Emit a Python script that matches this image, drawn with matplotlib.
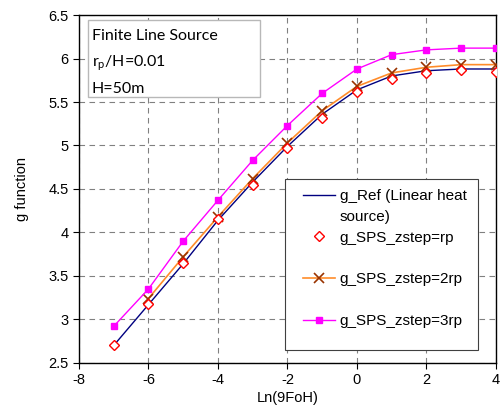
import matplotlib.pyplot as plt
from matplotlib.lines import Line2D
from matplotlib.patches import Rectangle
import numpy as np

# Ln(9FoH)
x = [-7, -6, -5, -4, -3, -2, -1, 0, 1, 2, 3, 4]
g_ref = [2.70, 3.17, 3.64, 4.14, 4.58, 4.99, 5.36, 5.64, 5.80, 5.86, 5.88, 5.88]
g_rp = [2.70, 3.18, 3.65, 4.15, 4.55, 4.97, 5.32, 5.61, 5.77, 5.83, 5.87, 5.85]
x_2rp = [-6, -5, -4, -3, -2, -1, 0, 1, 2, 3, 4]
g_2rp = [3.24, 3.72, 4.18, 4.62, 5.03, 5.40, 5.68, 5.835, 5.90, 5.93, 5.93]
g_3rp = [2.92, 3.35, 3.90, 4.37, 4.83, 5.23, 5.60, 5.88, 6.045, 6.10, 6.12, 6.12]

plt.rcParams['font.family'] = ['Liberation Sans', 'DejaVu Sans']
plt.rcParams['axes.unicode_minus'] = False
fig = plt.figure(figsize=(5.03, 4.19), dpi=100)
ax = fig.add_axes([0.157, 0.134, 0.829, 0.830])

h_ref, = ax.plot(x, g_ref, color='#000080', lw=1.0, zorder=3)
h_rp, = ax.plot(x, g_rp, ls='none', marker='D', ms=5.5, mfc='white', mec='#ff0000', mew=1.0,
                zorder=4)
h_2rp, = ax.plot(x_2rp, g_2rp, color='#ff8c2a', lw=1.2, marker='x', ms=7, mec='#993300',
                 mew=1.2, zorder=3)
h_3rp, = ax.plot(x, g_3rp, color='#ff00ff', lw=1.0, marker='s', ms=5, mfc='#ff00ff',
                 mec='#ff00ff', zorder=3)

ax.set_xlim(-8, 4)
ax.set_ylim(2.5, 6.5)
ax.set_xticks(np.arange(-8, 5, 2))
ax.set_yticks(np.arange(2.5, 6.51, 0.5))
ax.set_yticklabels(['2.5', '3', '3.5', '4', '4.5', '5', '5.5', '6', '6.5'])
ax.grid(True, ls=(0, (5, 4)), color='#808080', lw=0.8)
ax.tick_params(direction='out', length=4, labelsize=10.5)
for s in ax.spines.values():
    s.set_linewidth(1.0)

ax.set_xlabel('Ln(9FoH)', fontsize=10.5, labelpad=3)
ax.set_ylabel('g function', fontsize=10.5, labelpad=14)

# legend: frame drawn separately, Excel-like row spacing via blank rows
ax.add_patch(Rectangle((0.494, 0.037), 0.463, 0.492, transform=ax.transAxes,
                       fc='white', ec='#404040', lw=0.8, zorder=6))
blank = Line2D([], [], ls='none')
handles = [h_ref, blank, h_rp, blank, h_2rp, blank, h_3rp]
labels = ['g_Ref (Linear heat', 'source)', 'g_SPS_zstep=rp', ' ',
          'g_SPS_zstep=2rp', ' ', 'g_SPS_zstep=3rp']
leg = ax.legend(handles, labels, loc='upper left', bbox_to_anchor=(0.537, 0.500),
                fontsize=11, frameon=False, labelspacing=0.45, handlelength=2.1,
                handletextpad=0.3, borderpad=0, borderaxespad=0)
leg.set_zorder(7)

# text box
ax.add_patch(Rectangle((0.022, 0.764), 0.413, 0.221, transform=ax.transAxes,
                       fc='white', ec='#b8b8b8', lw=1.0, zorder=6))
ax.text(0.031, 0.959,
        'Finite Line Source\n$\\mathregular{r_p}$/H=0.01\nH=50m',
        transform=ax.transAxes, va='top', ha='left', fontsize=11.5,
        family=['Lato', 'DejaVu Sans'], linespacing=1.8, zorder=7)

fig.savefig('out.png', dpi=100)
